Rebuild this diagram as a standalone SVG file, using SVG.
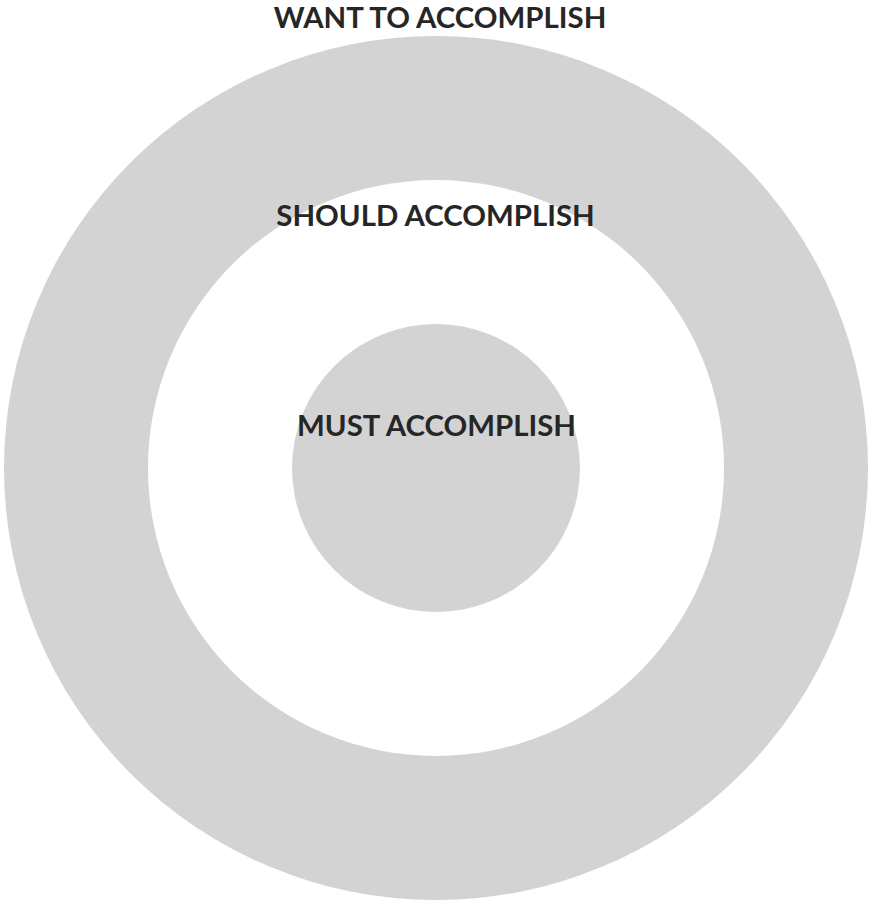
<svg xmlns="http://www.w3.org/2000/svg" width="870" height="903" viewBox="0 0 870 903">
<style>
.ring{fill:#d3d3d3}
.lbl{font-family:Lato,"Liberation Sans",sans-serif;font-weight:700;font-size:29.4px;fill:#262626;text-anchor:middle}
</style>
<rect width="870" height="903" fill="#ffffff"/>
<g id="want">
<circle class="ring" cx="436" cy="468" r="432"/>
<text class="lbl" x="440" y="28">WANT TO ACCOMPLISH</text>
</g>
<g id="should">
<circle cx="436" cy="468" r="288" fill="#ffffff"/>
<text class="lbl" x="435.5" y="226">SHOULD ACCOMPLISH</text>
</g>
<g id="must">
<circle class="ring" cx="436" cy="468" r="144"/>
<text class="lbl" x="436.5" y="436">MUST ACCOMPLISH</text>
</g>
<g id="connectors"/>
</svg>
